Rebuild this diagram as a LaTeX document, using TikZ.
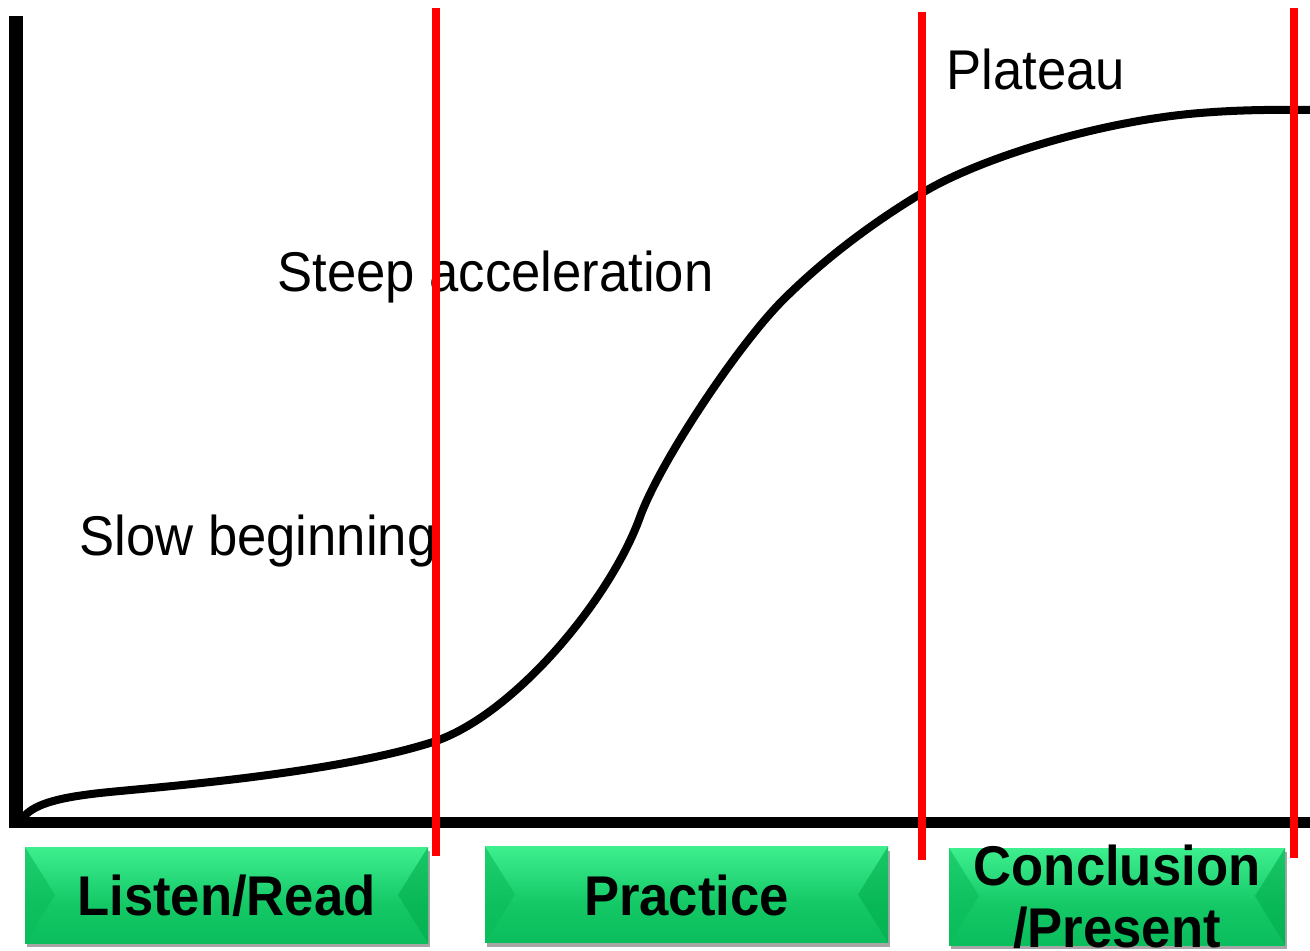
\documentclass[tikz,border=0pt]{standalone}
\usepackage{fontspec}
\setmainfont{Liberation Sans}[FakeStretch=0.94]
\usetikzlibrary{calc,shadows}
\definecolor{gmain}{HTML}{00B050}
\definecolor{glight}{HTML}{45F595}
\definecolor{gmid}{HTML}{14C866}
\definecolor{gside}{HTML}{0BBB5A}
\definecolor{gside2}{HTML}{02AD4D}
% green face: bright band at the top fading into the base green
\pgfdeclareverticalshading{bevelgreen}{100bp}{color(0bp)=(gmain); color(45bp)=(gmid); color(80bp)=(glight); color(100bp)=(glight)}

\begin{document}
\begin{tikzpicture}[x=0.5pt,y=-0.5pt,
  axis/.style={black},
  divider/.style={line width=4pt, red},
  curve/.style={line width=4pt, black, line join=round, line cap=round},
  note/.style={font=\fontsize{28}{31}\selectfont, inner sep=0pt, anchor=base west},
  phase/.style={font=\fontsize{28}{31}\selectfont\bfseries, inner sep=0pt, anchor=base},
  bevelbox/.style={rectangle, inner sep=0pt, minimum width=201.5pt, minimum height=48pt,
    shading=bevelgreen,
    drop shadow={shadow xshift=1pt, shadow yshift=-2pt, fill=black, opacity=0.35},
    path picture={
      \fill[gside, opacity=0.6] (path picture bounding box.north west) -- ++(30,48)
        -- (path picture bounding box.south west) -- cycle;
      \fill[gside2, opacity=0.6] (path picture bounding box.north east) -- ++(-30,48)
        -- (path picture bounding box.south east) -- cycle;
    }}
]
\useasboundingbox (0,0) rectangle (1310,951);
\clip (0,0) rectangle (1310,951);

% phase boxes
\node[bevelbox] (listen) at (226.5,895) {};
\node[bevelbox] (practice) at (686.5,894.5) {};
\node[bevelbox, minimum width=168pt, minimum height=48.5pt] (concl) at (1117,896.5) {};

\node[phase] (listenT) at (226.5,915) {Listen/Read};
\node[phase] (practiceT) at (686.5,915) {Practice};
\node[phase] (conclT) at (1117,885) {Conclusion};
\node[phase] (presentT) at (1117,947) {/Present};

% axes
\coordinate (ytop) at (16,16);
\coordinate (ybot) at (16,828);
\coordinate (xleft) at (9,822.5);
\coordinate (xright) at (1310,822.5);
\draw[axis, line width=7pt] (ytop) -- (ybot);
\draw[axis, line width=5.5pt] (xleft) -- (xright);

% learning curve (S-shape)
\draw[curve] (22,819)
  .. controls (32,805) and (55,798) .. (100,793)
  .. controls (145,788) and (330,775) .. (433,742)
  .. controls (513,716) and (610,600) .. (640,517)
  .. controls (660,462) and (738,345) .. (783,300)
  .. controls (823,260) and (872,223) .. (922,193)
  .. controls (980,158) and (1100,121) .. (1200,113)
  .. controls (1250,109) and (1285,110) .. (1312,110);

% stage labels
\node[note] (slow) at (79,555) {Slow beginning};
\node[note] (steep) at (277,292) {Steep acceleration};
\node[note] (plateau) at (946,90) {Plateau};

% phase dividers
\coordinate (d1a) at (436,8);    \coordinate (d1b) at (436,856);
\coordinate (d2a) at (922,12);   \coordinate (d2b) at (922,860);
\coordinate (d3a) at (1294,8);   \coordinate (d3b) at (1294,858);
\draw[divider] (d1a) -- (d1b);
\draw[divider] (d2a) -- (d2b);
\draw[divider] (d3a) -- (d3b);
\end{tikzpicture}
\end{document}
